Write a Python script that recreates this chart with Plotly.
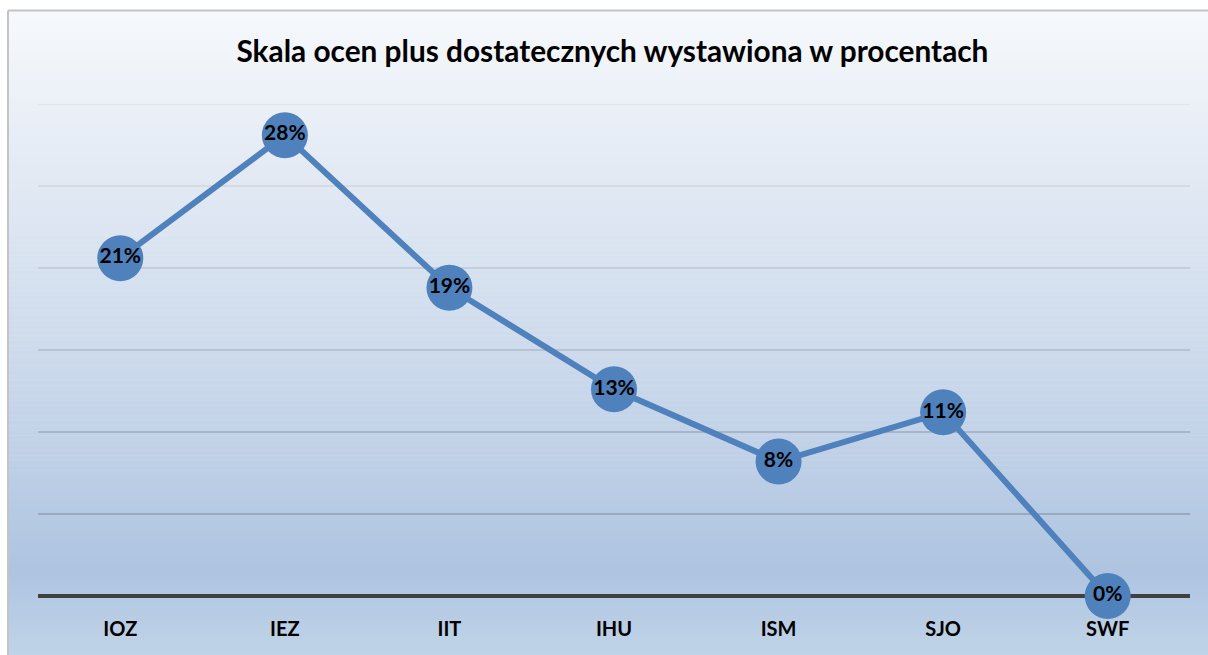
import plotly.graph_objects as go

categories = ["IOZ", "IEZ", "IIT", "IHU", "ISM", "SJO", "SWF"]
values = [20.6, 28.1, 18.8, 12.6, 8.2, 11.2, 0.0]
labels = ["21%", "28%", "19%", "13%", "8%", "11%", "0%"]
title_text = "Skala ocen plus dostatecznych wystawiona w procentach"
y_ticks = [0, 5, 10, 15, 20, 25, 30]

W, H = 1208, 655
L, R, T, B = 38, 18, 103.5, 59
plot_h = H - T - B
plot_w = W - L - R

def px_to_paper_y(py):
    return (H - B - py) / plot_h

def px_to_paper_x(px):
    return (px - L) / plot_w

# gradient stops (pixel y, rgb)
stops = [(10, (246, 249, 252)), (150, (230, 236, 245)), (300, (211, 223, 238)),
         (450, (192, 209, 231)), (570, (174, 196, 224)), (655, (192, 211, 232))]

def col_at(py):
    for (y0, c0), (y1, c1) in zip(stops[:-1], stops[1:]):
        if y0 <= py <= y1:
            t = (py - y0) / (y1 - y0)
            return "rgb(%d,%d,%d)" % tuple(round(a + (b - a) * t) for a, b in zip(c0, c1))
    return "rgb(%d,%d,%d)" % stops[-1][1]

shapes = []
step = 5
py = 10
while py < H:
    shapes.append(dict(type="rect", xref="paper", yref="paper", layer="below",
                       x0=px_to_paper_x(8), x1=px_to_paper_x(W + 5),
                       y0=px_to_paper_y(py + step + 0.5), y1=px_to_paper_y(py),
                       fillcolor=col_at(py + step / 2), line=dict(width=0)))
    py += step
# border
shapes.append(dict(type="line", xref="paper", yref="paper", layer="below",
                   x0=px_to_paper_x(8), x1=px_to_paper_x(8), y0=px_to_paper_y(H + 5), y1=px_to_paper_y(10),
                   line=dict(color="#C4C4C4", width=2)))
shapes.append(dict(type="line", xref="paper", yref="paper", layer="below",
                   x0=px_to_paper_x(8), x1=px_to_paper_x(W + 5), y0=px_to_paper_y(10), y1=px_to_paper_y(10),
                   line=dict(color="#C4C4C4", width=2)))
# gridlines with varying tone
grid_cols = {5: "#7D8A9E", 10: "#8D98A8", 15: "#A0A9B6", 20: "#B3BAC5", 25: "#C8CDD5", 30: "#D8DBE0"}
for v in y_ticks[1:]:
    shapes.append(dict(type="line", xref="paper", yref="y", layer="below",
                       x0=0, x1=1, y0=v, y1=v, line=dict(color=grid_cols[v], width=1.2)))

fig = go.Figure()
fig.add_trace(go.Scatter(
    x=categories, y=values, mode="lines+markers+text", text=labels,
    textposition="middle center",
    textfont=dict(family="Lato", size=21, color="black", weight="bold"),
    line=dict(color="#4F81BD", width=6),
    marker=dict(size=46, color="#4F81BD", line=dict(width=0)),
    cliponaxis=False, hoverinfo="skip"))

fig.update_layout(
    width=W, height=H,
    margin=dict(l=L, r=R, t=T, b=B),
    paper_bgcolor="white", plot_bgcolor="rgba(0,0,0,0)",
    showlegend=False,
    shapes=shapes,
    title=dict(text="<b>" + title_text + "</b>", x=0.507, xanchor="center",
               y=1 - 52 / H, yanchor="middle",
               font=dict(family="Lato", size=29.8, color="black")),
    xaxis=dict(range=[-0.5, 6.5], showgrid=False, zeroline=False, showline=False,
               ticks="", tickfont=dict(family="Lato", size=20, color="black", weight="bold"),
               ticklabelstandoff=19),
    yaxis=dict(range=[0, 30], tickvals=y_ticks, showticklabels=False, showgrid=False,
               zeroline=True, zerolinecolor="#404040", zerolinewidth=3.5, showline=False),
)
css_js = (
    "var s=document.createElement('style');"
    "s.textContent='html,body{margin:0;padding:0;overflow:hidden;scrollbar-width:none;}"
    "::-webkit-scrollbar{display:none;width:0;height:0;}';"
    "document.head.appendChild(s);"
    "window.scrollTo(0,0);"
)
fig.write_html("out.html", config={"displayModeBar": False}, post_script=css_js)
